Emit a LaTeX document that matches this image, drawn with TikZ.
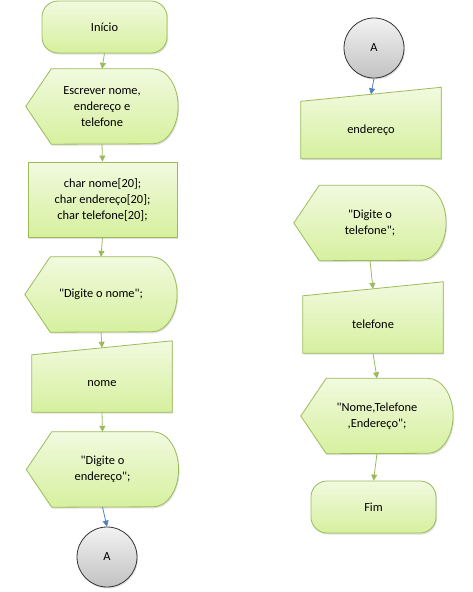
\documentclass[tikz,border=0pt]{standalone}
\usepackage{fontspec}
\setmainfont{Carlito}[Ligatures=TeXOff]
\usetikzlibrary{arrows.meta,shadows,backgrounds,calc}

\definecolor{boxline}{HTML}{9BBB59}
\definecolor{boxtop}{HTML}{F1FADF}
\definecolor{boxbot}{HTML}{D6F09E}
\definecolor{conline}{HTML}{333333}
\definecolor{contop}{HTML}{F2F2F2}
\definecolor{conbot}{HTML}{C2C2C2}
\definecolor{jumpblue}{HTML}{4F81BD}

\tikzset{
  txt/.style={font=\fontsize{12.4}{16}\selectfont, align=center, inner sep=0pt},
  shapefill/.style={draw=boxline, top color=boxtop, bottom color=boxbot, line width=0.8pt,
    drop shadow={opacity=0.25, shadow xshift=1pt, shadow yshift=-1.5pt}},
  term/.style={txt, shapefill, rounded corners=16pt, minimum width=125pt, minimum height=52pt},
  declbox/.style={txt, shapefill, rectangle, minimum width=149pt, minimum height=75pt},
  disp/.style={txt, minimum width=152pt, minimum height=75pt},
  manin/.style={txt, minimum width=140pt, minimum height=57pt},
  conn/.style={txt, circle, draw=conline, top color=contop, bottom color=conbot, line width=0.8pt,
    minimum size=60pt, drop shadow={opacity=0.25, shadow xshift=1pt, shadow yshift=-1.5pt}},
  flow/.style={draw=boxline, line width=0.8pt, -{Triangle[length=6pt,width=6pt]}},
  jump/.style={flow, draw=jumpblue}
}

% display shape: point on the left, arc on the right
\newcommand{\dispbg}[1]{%
  \path[shapefill] (#1.west) -- ($(#1.north west)!0.1667!(#1.north east)$)
    -- ($(#1.north west)!0.8333!(#1.north east)$)
    arc[start angle=90, end angle=-90, x radius=25.3pt, y radius=37.5pt]
    -- ($(#1.south west)!0.1667!(#1.south east)$) -- cycle;}
% manual input: slanted top edge
\newcommand{\maninbg}[1]{%
  \path[shapefill] (#1.south west) -- (#1.north west) -- ([yshift=14pt]#1.north east)
    -- (#1.south east) -- cycle;}

\begin{document}
\begin{tikzpicture}[x=1pt, y=1pt]
    \useasboundingbox (0,0) rectangle (472,-592);

    % left column
    \node[term] (inicio) at (104.5,-27) {Início};
    \node[disp] (escrever) at (102,-106.5) {Escrever nome,\\endereço e\\telefone};
    \node[declbox] (decl) at (102.5,-199.5) {char nome[20];\\char endereço[20];\\char telefone[20];};
    \node[disp] (dignome) at (101,-294.5) {"Digite o nome";};
    \node[manin] (lenome) at (102,-383.5) {nome};
    \node[disp] (digend) at (102.5,-469.5) {"Digite o\\endereço";};
    \node[conn] (conA) at (107,-557) {A};

    % right column
    \node[conn] (conB) at (374,-48) {A};
    \node[manin] (leend) at (371,-130) {endereço};
    \node[disp] (digtel) at (370,-223) {"Digite o\\telefone";};
    \node[manin] (letel) at (373,-324.5) {telefone};
    \node[disp] (saida) at (377,-416) {"Nome,Telefone\\,Endereço";};
    \node[term] (fim) at (373.5,-507) {Fim};

    \begin{pgfonlayer}{background}
      \dispbg{escrever}
      \dispbg{dignome}
      \dispbg{digend}
      \dispbg{digtel}
      \dispbg{saida}
      \maninbg{lenome}
      \maninbg{leend}
      \maninbg{letel}
    \end{pgfonlayer}

    % connectors
    \draw[flow] (inicio.south) -- (escrever.north);
    \draw[flow] (escrever.south) -- (decl.north);
    \draw[flow] (decl.south) -- (dignome.north);
    \draw[flow] (dignome.south) -- ([yshift=7pt]lenome.north);
    \draw[flow] (lenome.south) -- (digend.north);
    \draw[jump] (digend.south) -- (conA.north);

    \draw[jump] (conB.south) -- ([yshift=7pt]leend.north);
    \draw[flow] (digtel.south) -- ([yshift=7pt]letel.north);
    \draw[flow] (letel.south) -- (saida.north);
    \draw[flow] (saida.south) -- (fim.north);
\end{tikzpicture}
\end{document}
